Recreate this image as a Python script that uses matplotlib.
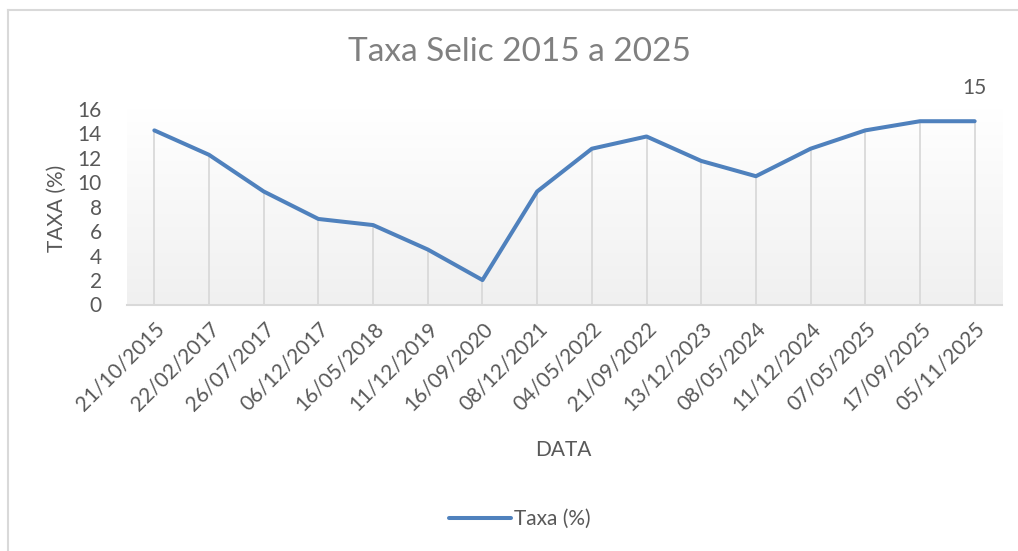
import matplotlib
matplotlib.use("Agg")
import matplotlib.pyplot as plt
import numpy as np
from matplotlib.lines import Line2D

dates = ["21/10/2015", "22/02/2017", "26/07/2017", "06/12/2017", "16/05/2018",
         "11/12/2019", "16/09/2020", "08/12/2021", "04/05/2022", "21/09/2022",
         "13/12/2023", "08/05/2024", "11/12/2024", "07/05/2025", "17/09/2025",
         "05/11/2025"]
taxa = [14.25, 12.25, 9.25, 7.0, 6.5, 4.5, 2.0, 9.25, 12.75, 13.75,
        11.75, 10.5, 12.75, 14.25, 15.0, 15.0]
yticks = [0, 2, 4, 6, 8, 10, 12, 14, 16]

plt.rcParams['font.family'] = ['Lato', 'DejaVu Sans']
TXT = '#595959'
BLUE = '#4F81BD'

fig = plt.figure(figsize=(10.18, 5.51), dpi=100)
W, H = 1018, 551
ax = fig.add_axes([127 / W, 1 - 304.5 / H, (1002 - 127) / W, (304.5 - 109) / H])

x = np.arange(len(dates))
ax.set_xlim(-0.5, len(dates) - 0.5)
ax.set_ylim(0, 16)

# gradient background
grad = np.linspace(1.0, 0.0, 256).reshape(-1, 1)
top = np.array([1.0, 1.0, 1.0])
bot = np.array([0xf0, 0xf0, 0xf0]) / 255
img = top[None, None, :] * grad[:, :, None] + bot[None, None, :] * (1 - grad[:, :, None])
ax.imshow(img, extent=[0, 1, 0, 1], transform=ax.transAxes, aspect='auto', zorder=0)

# drop lines
ax.vlines(x, 0, taxa, colors='#d9d9d9', linewidth=1.3, zorder=1)
ax.plot(x, taxa, color=BLUE, linewidth=2.9, solid_capstyle='round', solid_joinstyle='round', zorder=3)
ax.annotate(f"{taxa[-1]:g}", (x[-1], taxa[-1]), xytext=(0, 24), textcoords='offset points',
            ha='center', va='center', fontsize=15, color=TXT)

for s in ['top', 'right', 'left']:
    ax.spines[s].set_visible(False)
ax.spines['bottom'].set_color('#d9d9d9')
ax.spines['bottom'].set_linewidth(1.5)

ax.set_yticks(yticks)
ax.set_yticklabels([str(v) for v in yticks], fontsize=15, color=TXT)
ax.tick_params(axis='y', length=0, pad=18)
ax.set_xticks(x)
ax.set_xticklabels(dates, rotation=45, ha='right', rotation_mode='anchor', fontsize=15, color=TXT)
ax.tick_params(axis='x', length=0, pad=10)

fig.text(57 / W, 1 - 208 / H, "TAXA (%)", rotation=90, ha='center', va='center', fontsize=15, color=TXT)
fig.text(563 / W, 1 - 450 / H, "DATA", ha='center', va='center', fontsize=15, color=TXT)
fig.text(519 / W, 1 - 52 / H, "Taxa Selic 2015 a 2025", ha='center', va='center', fontsize=24, color='#808080')

# legend
leg_handle = Line2D([], [], color=BLUE, linewidth=2.9, solid_capstyle='round')
fig.legend([leg_handle], ["Taxa (%)"], loc='center', bbox_to_anchor=(520 / W, 1 - 519 / H),
           frameon=False, fontsize=15, labelcolor=TXT, handlelength=3.0, handletextpad=0.15)

# chart border (partially visible)
fig.add_artist(Line2D([8 / W, 1], [1 - 10 / H, 1 - 10 / H], color='#d9d9d9', linewidth=1.5, transform=fig.transFigure))
fig.add_artist(Line2D([8 / W, 8 / W], [0, 1 - 10 / H], color='#d9d9d9', linewidth=1.5, transform=fig.transFigure))

fig.savefig("out.png", dpi=100, facecolor='white')
